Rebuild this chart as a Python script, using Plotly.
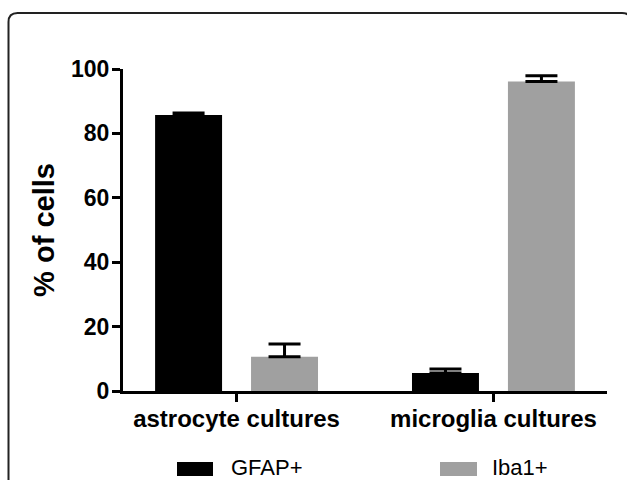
import plotly.graph_objects as go

categories = ["astrocyte cultures", "microglia cultures"]
gfap_values = [85.7, 5.6]
gfap_err = [0.6, 1.2]
iba1_values = [10.6, 96.1]
iba1_err = [4.0, 1.8]
series_names = ["GFAP+", "Iba1+"]
y_ticks = [0, 20, 40, 60, 80, 100]

FONT = "Liberation Sans, Arial, sans-serif"
GRAY = "#A0A0A0"

# plot area in pixels
W, H = 627, 480
L, R, T, B = 123, 20, 69, 89
pw, ph = W - L - R, H - T - B


def px_x(x):
    return (x - L) / pw


def px_y(y):
    return (H - B - y) / ph


fig = go.Figure()
fig.add_trace(go.Bar(
    x=categories, y=gfap_values, name=series_names[0],
    marker=dict(color="black", line=dict(width=0)),
    error_y=dict(type="data", array=gfap_err, arrayminus=[0] * len(gfap_err),
                 symmetric=False, color="black", thickness=3, width=16),
    showlegend=False,
))
fig.add_trace(go.Bar(
    x=categories, y=iba1_values, name=series_names[1],
    marker=dict(color=GRAY, line=dict(width=0)),
    error_y=dict(type="data", array=iba1_err, arrayminus=[0] * len(iba1_err),
                 symmetric=False, color="black", thickness=3, width=16),
    showlegend=False,
))

shapes = []
# rounded frame around figure
x0, x1, y0, r = 8.5, 631, 13, 9
path = (f"M {px_x(x0)},{px_y(500)} L {px_x(x0)},{px_y(y0 + r)} "
        f"Q {px_x(x0)},{px_y(y0)} {px_x(x0 + r)},{px_y(y0)} "
        f"L {px_x(x1 - r)},{px_y(y0)} Q {px_x(x1)},{px_y(y0)} {px_x(x1)},{px_y(y0 + r)} "
        f"L {px_x(x1)},{px_y(500)}")
shapes.append(dict(type="path", xref="paper", yref="paper", path=path,
                   line=dict(color="#222222", width=2), layer="above"))

# manual legend
legend_items = [(177, 213, "black", series_names[0], 232),
                (440, 477, GRAY, series_names[1], 493)]
annotations = []
for sx0, sx1, col, name, tx in legend_items:
    shapes.append(dict(type="rect", xref="paper", yref="paper",
                       x0=px_x(sx0), x1=px_x(sx1), y0=px_y(476), y1=px_y(462),
                       fillcolor=col, line=dict(width=0)))
    annotations.append(dict(text=name, xref="paper", yref="paper",
                            x=px_x(tx - 2), y=px_y(467.5), xanchor="left", yanchor="middle",
                            showarrow=False, borderpad=0,
                            font=dict(family=FONT, size=22, color="black")))

fig.update_layout(
    width=W, height=H,
    margin=dict(l=L, r=R, t=T, b=B, pad=0),
    paper_bgcolor="white", plot_bgcolor="white",
    barmode="group", bargap=0.253, bargroupgap=0.302,
    shapes=shapes, annotations=annotations,
    font=dict(family=FONT, color="black"),
    showlegend=False,
)
fig.update_xaxes(
    range=[-0.442, 1.442], showline=True, linewidth=3, linecolor="black",
    ticks="outside", ticklen=8, tickwidth=3, tickcolor="black",
    ticklabelstandoff=-4,
    tickfont=dict(family=FONT, size=24, color="black", weight="bold"),
    showgrid=False, zeroline=False,
)
fig.update_yaxes(
    range=[0, 100], tickvals=y_ticks, showline=True, linewidth=3, linecolor="black",
    ticks="outside", ticklen=8, tickwidth=3, tickcolor="black",
    ticklabelstandoff=-2,
    tickfont=dict(family=FONT, size=23, color="black", weight="bold"),
    title=dict(text="% of cells", standoff=8,
               font=dict(family=FONT, size=29, color="black", weight="bold")),
    showgrid=False, zeroline=False,
)

fig.write_html(
    "out.html",
    config={"responsive": False, "displayModeBar": False},
    post_script="document.body.style.margin='0';document.body.style.overflow='hidden';",
)
